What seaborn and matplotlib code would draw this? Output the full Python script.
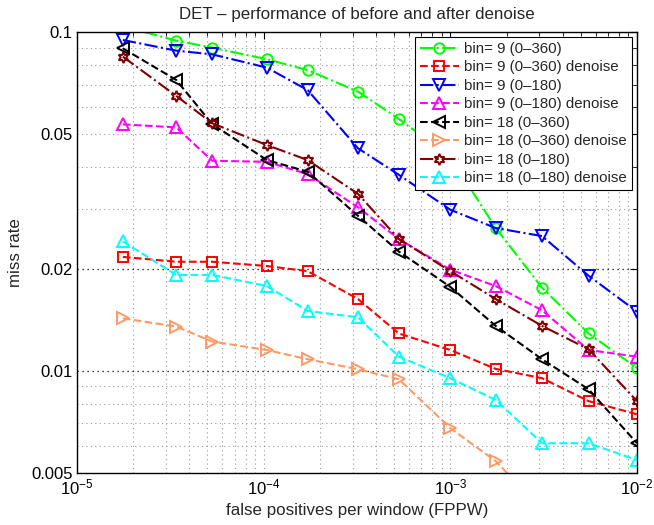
import numpy as np
import pandas as pd
import matplotlib
matplotlib.use("Agg")
import matplotlib.pyplot as plt
import seaborn as sns
from matplotlib.ticker import LogLocator, FixedLocator, FixedFormatter, NullFormatter

# ---------- data ----------
fppw = [1.76e-5, 3.4e-5, 5.3e-5, 1.04e-4, 1.72e-4, 3.2e-4, 5.3e-4, 1.0e-3, 1.75e-3, 3.1e-3, 5.5e-3, 1.0e-2]

labels = [
    "bin= 9 (0\u2013360)",
    "bin= 9 (0\u2013360) denoise",
    "bin= 9 (0\u2013180)",
    "bin= 9 (0\u2013180) denoise",
    "bin= 18 (0\u2013360)",
    "bin= 18 (0\u2013360) denoise",
    "bin= 18 (0\u2013180)",
    "bin= 18 (0\u2013180) denoise",
]

bin9_360 = [0.104, 0.0943, 0.0899, 0.0831, 0.0772, 0.0667, 0.0554, 0.0428, 0.0264, 0.0176, 0.0129, 0.0102]
bin9_360_dn = [0.0217, 0.0210, 0.0210, 0.0204, 0.0197, 0.0163, 0.0129, 0.01153, 0.01014, 0.00952, 0.00815, 0.00745]
bin9_180 = [0.0947, 0.0881, 0.0859, 0.0785, 0.0674, 0.0454, 0.0379, 0.0299, 0.0264, 0.0250, 0.0191, 0.01496]
bin9_180_dn = [0.0534, 0.0523, 0.0417, 0.0414, 0.0381, 0.0304, 0.0245, 0.0199, 0.0178, 0.0151, 0.01153, 0.01102]
bin18_360 = [0.0895, 0.0722, 0.0535, 0.0419, 0.0387, 0.0287, 0.0225, 0.0177, 0.01358, 0.01083, 0.00883, 0.00612]
bin18_360_dn = [0.0143, 0.01352, 0.01221, 0.01153, 0.01083, 0.01012, 0.00945, 0.00678, 0.00542, 0.0039, 0.0031, 0.0025]
bin18_180 = [0.0846, 0.0648, 0.0538, 0.0464, 0.0419, 0.0333, 0.0245, 0.0197, 0.0163, 0.01358, 0.01159, 0.00815]
bin18_180_dn = [0.0241, 0.0192, 0.0192, 0.0178, 0.01503, 0.0144, 0.01102, 0.00952, 0.00821, 0.00612, 0.00612, 0.00546]

series = [bin9_360, bin9_360_dn, bin9_180, bin9_180_dn,
          bin18_360, bin18_360_dn, bin18_180, bin18_180_dn]

colors = ["#00ff00", "#ff0000", "#0000ff", "#ff00ff", "#000000", "#ff9966", "#800000", "#00ffff"]
markers = ["o", "s", "v", "^", "<", ">", (6, 1, 0), "^"]
msizes = [7.5, 6.5, 8.5, 8.5, 8.5, 8.5, 8, 8.5]
dashes = ["-.", "--", "-.", "--", "--", "--", "-.", "--"]

# long table for seaborn
df = pd.concat(
    [pd.DataFrame({"fppw": fppw, "miss": s, "label": lab}) for s, lab in zip(series, labels)],
    ignore_index=True,
)

# ---------- plot ----------
sns.set_style("white")
plt.rcParams["font.family"] = ["Liberation Sans", "DejaVu Sans"]
plt.rcParams["mathtext.default"] = "regular"

fig = plt.figure(figsize=(6.54, 5.25), dpi=100)
ax = fig.add_axes([77 / 654, 52 / 525, 560 / 654, 441 / 525])

for lab, col, mk, ms, ls in zip(labels, colors, markers, msizes, dashes):
    sub = df[df["label"] == lab]
    sns.lineplot(
        data=sub, x="fppw", y="miss", ax=ax, color=col, linestyle=ls, lw=1.5,
        marker=mk, markersize=ms, markerfacecolor="none", markeredgecolor=col,
        markeredgewidth=1.4, label=lab, sort=False, legend=False,
    )

ax.set_xscale("log")
ax.set_yscale("log")
ax.set_xlim(1e-5, 1e-2)
ax.set_ylim(0.005, 0.1)

# ticks MATLAB-like
ax.xaxis.set_major_locator(LogLocator(base=10, numticks=10))
ax.xaxis.set_minor_locator(LogLocator(base=10, subs=np.arange(2, 10), numticks=10))
ax.xaxis.set_minor_formatter(NullFormatter())
yticks = [0.005, 0.01, 0.02, 0.05, 0.1]
ax.yaxis.set_major_locator(FixedLocator(yticks))
ax.yaxis.set_major_formatter(FixedFormatter(["0.005", "0.01", "0.02", "0.05", "0.1"]))
ax.yaxis.set_minor_locator(LogLocator(base=10, subs=np.arange(2, 10), numticks=10))
ax.yaxis.set_minor_formatter(NullFormatter())
ax.tick_params(which="both", direction="in", top=True, right=True, labelsize=12, colors="black")
ax.tick_params(which="major", length=5, width=0.8, pad=3)
ax.tick_params(which="minor", length=3, width=0.6)

# grid: gray dotted everywhere, black dotted at 0.01 / 0.02
for v in [2e-5, 3e-5, 4e-5, 5e-5, 6e-5, 7e-5, 8e-5, 9e-5]:
    for dec in [1, 10, 100]:
        ax.axvline(v * dec, color="#9a9a9a", ls=(0, (1, 3)), lw=0.8, zorder=0)
for v in [1e-4, 1e-3]:
    ax.axvline(v, color="#9a9a9a", ls=(0, (1, 3)), lw=0.8, zorder=0)
for v in [0.006, 0.007, 0.008, 0.009, 0.03, 0.04, 0.05, 0.06, 0.07, 0.08, 0.09]:
    ax.axhline(v, color="#9a9a9a", ls=(0, (1, 3)), lw=0.8, zorder=0)
for v in [0.01, 0.02]:
    ax.axhline(v, color="black", ls=(0, (1, 3)), lw=0.9, zorder=0)

for sp in ax.spines.values():
    sp.set_color("black")
    sp.set_linewidth(1.0)

ax.set_title("DET \u2013 performance of before and after denoise", fontsize=12.2, pad=9)
ax.set_xlabel("false positives per window (FPPW)", fontsize=12.2, labelpad=4)
ax.set_ylabel("miss rate", fontsize=12.2, labelpad=6)

leg = ax.legend(loc="upper right", fontsize=10.8, frameon=True, fancybox=False,
                borderpad=0.3, labelspacing=0.3, handlelength=2.6, handletextpad=0.4,
                borderaxespad=0.35)
leg.get_frame().set_edgecolor("black")
leg.get_frame().set_linewidth(0.8)
leg.get_frame().set_alpha(1)

fig.savefig("out.png", dpi=100)
